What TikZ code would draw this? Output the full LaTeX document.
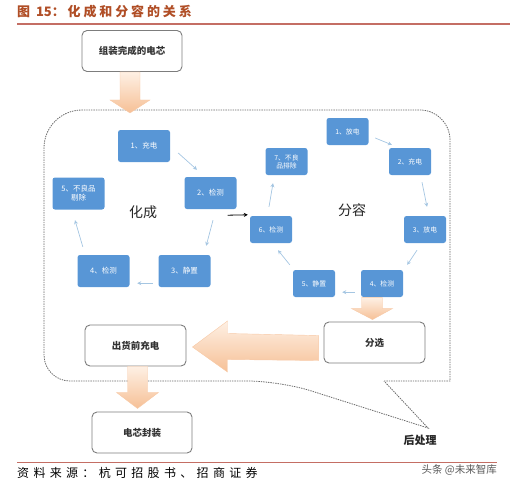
\documentclass[tikz,border=0pt]{standalone}
\usepackage{fontspec}
\setmainfont{Noto Sans CJK SC}
\newfontfamily\titlefont[LetterSpace=22]{Noto Sans CJK SC}
\newfontfamily\notefont[LetterSpace=36]{Noto Sans CJK SC}
\usetikzlibrary{arrows.meta,calc}

\definecolor{titlered}{RGB}{176,78,38}
\definecolor{rulered}{RGB}{196,110,100}
\definecolor{stepblue}{RGB}{88,150,214}
\definecolor{flowblue}{RGB}{165,198,226}
\definecolor{boxgray}{RGB}{125,125,125}
\definecolor{dotgray}{RGB}{105,105,105}
\definecolor{peachlight}{RGB}{254,240,228}
\definecolor{peachdark}{RGB}{246,192,150}

\tikzset{
  stepbox/.style={fill=stepblue, text=white, rounded corners=2.5pt, minimum width=52pt,
    minimum height=32pt, inner sep=1pt, align=center, font=\fontsize{7.5}{9}\selectfont},
  smallstep/.style={stepbox, minimum width=42pt, minimum height=27pt,
    font=\fontsize{6.8}{8}\selectfont},
  procbox/.style={draw=boxgray, fill=white, rounded corners=5pt, line width=0.9pt,
    minimum width=100pt, minimum height=41pt, text=black!80,
    font=\fontsize{9.5}{11}\selectfont\bfseries},
  flow/.style={-{Stealth[length=4pt,width=4pt]}, flowblue, line width=0.7pt},
  bigarrow/.style={top color=peachlight, bottom color=peachdark, draw=peachdark!85, line width=0.4pt},
  callout/.style={dotgray, line width=0.8pt, dash pattern=on 1.4pt off 1pt},
}

\begin{document}
\begin{tikzpicture}[x=1pt,y=-1pt]
\useasboundingbox (0,0) rectangle (510,487);

% title and rules
\node[anchor=west, inner sep=0, text=titlered, font=\titlefont\bfseries\fontsize{13}{14}\selectfont] (title) at (17,12) {图 {\addfontfeature{LetterSpace=0}15}：化成和分容的关系};
\draw[rulered, line width=1.5pt] (17,24) -- (510,24);
\draw[rulered, line width=1pt] (17,462) -- (497,462);
\node[anchor=west, inner sep=0, font=\notefont\fontsize{12}{13}\selectfont] (source) at (17,473) {资料来源：杭可招股书、招商证券};
\node[anchor=east, inner sep=0, text=black!65, font=\fontsize{10.5}{12}\selectfont] (mark) at (497,470) {头条 @未来智库};

% dashed callout
\draw[callout] (384,381) -- (450,381) [rounded corners=30pt] -- (450,110)
  [rounded corners=38pt] -- (44,110) [rounded corners=26pt] -- (44,381)
  [rounded corners=32pt] -- (280,381) [sharp corners] -- (428,428) -- cycle;
\node[font=\fontsize{11}{12}\selectfont\bfseries, text=black!85] (post) at (420,440) {后处理};

% process boxes
\node[procbox] (asm) at (132,51) {组装完成的电芯};
\node[procbox, minimum width=101pt] (ship) at (135.5,345.5) {出货前充电};
\node[procbox, minimum width=101pt] (sort) at (374.5,342.5) {分选};
\node[procbox] (pack) at (142,432.5) {电芯封装};

% formation
\node[stepbox] (h1) at (144,146) {1、充电};
\node[stepbox] (h2) at (210.5,193) {2、检测};
\node[stepbox] (h3) at (184.5,271) {3、静置};
\node[stepbox] (h4) at (103.5,271) {4、检测};
\node[stepbox] (h5) at (78.5,193.5) {5、不良品\\剔除};
\node[font=\fontsize{14}{15}\selectfont, text=black!85] (hua) at (143,212) {化成};

\draw[flow] ($(h1.east)+(8,7)$) -- ($(h2.north)+(-13.5,-7)$);
\draw[flow] ($(h2.south)+(2.5,11)$) -- ($(h3.north east)+(-4.5,-9)$);
\draw[flow] ($(h3.south west)+(-5.5,-4)$) -- ($(h4.south east)+(7.5,-4)$);
\draw[flow] ($(h4.north west)+(5.5,-8)$) -- ($(h5.south)+(-3.5,10.5)$);

% grading
\node[smallstep] (f1) at (347.5,131.5) {1、放电};
\node[smallstep] (f2) at (410,161.5) {2、充电};
\node[smallstep] (f3) at (425,229.5) {3、放电};
\node[smallstep] (f4) at (382,283.5) {4、检测};
\node[smallstep] (f5) at (314,283.5) {5、静置};
\node[smallstep] (f6) at (271,229.5) {6、检测};
\node[smallstep] (f7) at (286.5,161.5) {7、不良\\品排除};
\node[font=\fontsize{14}{15}\selectfont, text=black!85] (fen) at (352,210) {分容};

\draw[flow] ($(f1.east)+(6.5,6.5)$) -- ($(f2.north west)+(3,-3)$);
\draw[flow] ($(f2.south)+(12,7)$) -- ($(f3.north)+(2,-9)$);
\draw[flow] ($(f3.south)+(-8,7)$) -- ($(f4.north east)+(4,-5)$);
\draw[flow] ($(f4.south west)+(-6,-5)$) -- ($(f5.south east)+(7,-5)$);
\draw[flow] ($(f5.north west)+(-3,-5)$) -- ($(f6.south)+(7,7)$);
\draw[flow] ($(f6.north)+(-2,-9)$) -- ($(f7.south)+(-13.5,8)$);

% formation to grading
\coordinate (hout) at ($(h2.south east)+(-9,6)$);
\draw[-{Stealth[length=4pt,width=4pt]}, line width=0.8pt] (hout) -- ($(f6.north west)+(-2,-1)$);

% block arrows
\shade[bigarrow] ($(asm.south)+(-12,0)$) -- ++(0,28) -- ++(-10,0) -- ($(asm.south)+(-2,41)$)
  -- ($(asm.south)+(18,28)$) -- ++(-10,0) -- ++(0,-28) -- cycle;
\shade[bigarrow] ($(sort.north)+(-13,-24)$) -- ++(0,11) -- ++(-10,0) -- ($(sort.north)+(-2,-2)$)
  -- ($(sort.north)+(18,-13)$) -- ++(-10,0) -- ++(0,-11) -- cycle;
\shade[bigarrow] ($(sort.west)+(-5,-7)$) -- ($(ship.east)+(41,-12)$) -- ++(0,-12.5)
  -- ($(ship.east)+(6,1.5)$) -- ($(ship.east)+(41,26.5)$) -- ++(0,-12.5)
  -- ($(sort.west)+(-5,18)$) -- cycle;
\shade[bigarrow] ($(ship.south)+(-8,0)$) -- ++(0,26) -- ++(-11,0) -- ($(ship.south)+(2,42)$)
  -- ($(ship.south)+(23,26)$) -- ++(-11,0) -- ++(0,-26) -- cycle;
\end{tikzpicture}
\end{document}
